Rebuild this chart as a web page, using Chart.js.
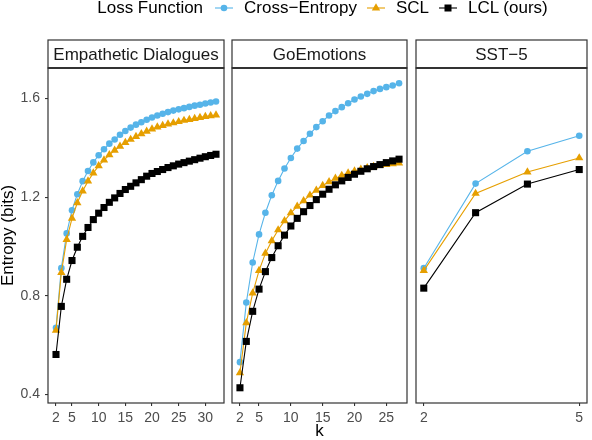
<!DOCTYPE html>
<html>
<head>
<meta charset="utf-8">
<script src="https://cdn.jsdelivr.net/npm/chart.js@4.4.1/dist/chart.umd.min.js"></script>
<style>
  html, body { margin: 0; padding: 0; background: #fff; }
  #wrap { position: relative; width: 592px; height: 440px; overflow: hidden; font-family: "Liberation Sans", Arial, sans-serif; }
  #wrap canvas { position: absolute; left: 0; top: 0; }
  #legend { position: absolute; left: 51px; top: -2px; width: 543px; height: 20px; line-height: 20px;
            display: flex; justify-content: center; align-items: center; font-size: 17px; color: #000; white-space: nowrap; }
  #legend .ttl { margin-right: 12px; }
  #legend .item { display: flex; align-items: center; margin-right: 10px; }
  #legend .item:last-child { margin-right: 0; }
  #legend svg { display: block; margin-right: 11px; }
</style>
</head>
<body>
<div id="wrap">
  <canvas id="p1" width="592" height="440"></canvas>
  <canvas id="p2" width="592" height="440"></canvas>
  <canvas id="p3" width="592" height="440"></canvas>
  <div id="legend"></div>
</div>
<script>
// categories (k)
var kEmp = [2, 3, 4, 5, 6, 7, 8, 9, 10, 11, 12, 13, 14, 15, 16, 17, 18, 19, 20, 21, 22, 23, 24, 25, 26, 27, 28, 29, 30, 31, 32];
var kGo = [2, 3, 4, 5, 6, 7, 8, 9, 10, 11, 12, 13, 14, 15, 16, 17, 18, 19, 20, 21, 22, 23, 24, 25, 26, 27];
var kSst = [2, 3, 4, 5];

// Empathetic Dialogues
var empCE = [0.670, 0.912, 1.053, 1.147, 1.212, 1.265, 1.306, 1.341, 1.370, 1.394, 1.417, 1.434, 1.453, 1.468, 1.482, 1.494,
  1.504, 1.514, 1.523, 1.531, 1.538, 1.545, 1.551, 1.556, 1.561, 1.566, 1.571, 1.575, 1.580, 1.584, 1.588];
var empSCL = [0.660, 0.894, 1.028, 1.114, 1.177, 1.225, 1.265, 1.298, 1.327, 1.350, 1.372, 1.390, 1.406, 1.421, 1.434, 1.446,
  1.457, 1.467, 1.476, 1.484, 1.490, 1.496, 1.501, 1.506, 1.511, 1.515, 1.519, 1.523, 1.527, 1.530, 1.533];
var empLCL = [0.562, 0.757, 0.867, 0.943, 0.997, 1.041, 1.077, 1.109, 1.135, 1.158, 1.179, 1.197, 1.215, 1.231, 1.244, 1.258,
  1.271, 1.285, 1.296, 1.304, 1.312, 1.320, 1.327, 1.334, 1.340, 1.346, 1.352, 1.358, 1.364, 1.369, 1.374];

// GoEmotions
var goCE = [0.531, 0.773, 0.935, 1.049, 1.137, 1.208, 1.266, 1.316, 1.359, 1.397, 1.428, 1.457, 1.484, 1.508, 1.531, 1.549,
  1.565, 1.581, 1.596, 1.608, 1.619, 1.630, 1.639, 1.646, 1.653, 1.662];
var goSCL = [0.488, 0.690, 0.811, 0.902, 0.972, 1.023, 1.067, 1.104, 1.136, 1.163, 1.185, 1.208, 1.228, 1.247, 1.262, 1.276,
  1.288, 1.298, 1.306, 1.313, 1.319, 1.324, 1.328, 1.332, 1.335, 1.338];
var goLCL = [0.427, 0.615, 0.737, 0.827, 0.898, 0.955, 1.003, 1.046, 1.083, 1.114, 1.141, 1.166, 1.190, 1.212, 1.232, 1.250,
  1.266, 1.280, 1.293, 1.305, 1.315, 1.324, 1.332, 1.340, 1.347, 1.354];

// SST-5
var sstCE = [0.912, 1.255, 1.386, 1.449];
var sstSCL = [0.902, 1.215, 1.302, 1.359];
var sstLCL = [0.831, 1.137, 1.253, 1.312];

var panelNames = ["Empathetic Dialogues", "GoEmotions", "SST\u22125"];
var seriesNames = ["Cross\u2212Entropy", "SCL", "LCL (ours)"];
var legendTitle = "Loss Function";
var yTitle = "Entropy (bits)";
var xTitle = "k";

var yTicks = [0.4, 0.8, 1.2, 1.6];
var xTicksEmp = [2, 5, 10, 15, 20, 25, 30];
var xTicksGo = [2, 5, 10, 15, 20, 25];
var xTicksSst = [2, 5];

(function () {
  "use strict";

  var colors = ["#56B4E9", "#E69F00", "#000000"];
  var shapes = ["circle", "triangle", "rect"];
  var radii = [3.3, 4.8, 5];
  var frame = "#333333";
  var tickGrey = "#4D4D4D";
  var fontFamily = "'Liberation Sans', Arial, sans-serif";

  Chart.defaults.font.family = fontFamily;

  // ggplot style 5% expansion
  function expand(lo, hi, f) {
    var d = (hi - lo) * f;
    return [lo - d, hi + d];
  }

  var allY = [].concat(empCE, empSCL, empLCL, goCE, goSCL, goLCL, sstCE, sstSCL, sstLCL);
  var yRange = expand(Math.min.apply(null, allY), Math.max.apply(null, allY), 0.05);

  function datasets(ks, rows) {
    return rows.map(function (vals, i) {
      return {
        label: seriesNames[i],
        data: ks.map(function (k, j) { return { x: k, y: vals[j] }; }),
        borderColor: colors[i],
        backgroundColor: colors[i],
        pointBackgroundColor: colors[i],
        pointBorderWidth: 0,
        pointStyle: shapes[i],
        pointRadius: radii[i],
        borderWidth: 1.1,
        tension: 0,
        order: rows.length - 1 - i
      };
    });
  }

  var stripPlugin = {
    id: "strip",
    afterDraw: function (chart) {
      var a = chart.chartArea;
      var ctx = chart.ctx;
      var w = a.right - a.left;
      ctx.save();
      ctx.strokeStyle = frame;
      ctx.lineWidth = 1.2;
      ctx.fillStyle = "#fff";
      ctx.fillRect(a.left, 40, w, 28);
      ctx.strokeRect(a.left, 40, w, 28);
      ctx.strokeRect(a.left, a.top, w, a.bottom - a.top);
      ctx.lineWidth = 2;
      ctx.beginPath();
      ctx.moveTo(a.left, a.top);
      ctx.lineTo(a.right, a.top);
      ctx.stroke();
      ctx.fillStyle = "#1A1A1A";
      ctx.font = "17px " + fontFamily;
      ctx.textAlign = "center";
      ctx.textBaseline = "alphabetic";
      ctx.fillText(chart.options.plugins.strip.text, (a.left + a.right) / 2, 59.5);
      ctx.restore();
    }
  };

  function panel(id, idx, ks, rows, xTicks, padL, padR, showY, showXTitle) {
    var xr = expand(ks[0], ks[ks.length - 1], 0.05);
    return new Chart(document.getElementById(id).getContext("2d"), {
      type: "line",
      data: { datasets: datasets(ks, rows) },
      plugins: [stripPlugin],
      options: {
        responsive: false,
        animation: false,
        layout: { padding: { left: padL, right: padR, top: 68, bottom: 0 } },
        scales: {
          x: {
            type: "linear",
            min: xr[0],
            max: xr[1],
            afterBuildTicks: function (s) { s.ticks = xTicks.map(function (v) { return { value: v }; }); },
            afterFit: function (s) { s.height = 37; },
            ticks: { color: tickGrey, font: { size: 14 }, padding: 4, maxRotation: 0, autoSkip: false,
                     callback: function (v) { return String(v); } },
            grid: { drawOnChartArea: false, drawTicks: true, tickLength: 3, color: frame, lineWidth: 1.1 },
            border: { display: false },
            title: { display: showXTitle, text: xTitle, color: "#000", font: { size: 17, lineHeight: 1 }, padding: 0 }
          },
          y: {
            type: "linear",
            display: showY,
            min: yRange[0],
            max: yRange[1],
            afterBuildTicks: function (s) { s.ticks = yTicks.map(function (v) { return { value: v }; }); },
            afterFit: function (s) { if (showY) s.width = 48; },
            ticks: { color: tickGrey, font: { size: 14 }, padding: 5,
                     callback: function (v) { return Number(v).toFixed(1); } },
            grid: { drawOnChartArea: false, drawTicks: true, tickLength: 3, color: frame, lineWidth: 1.1 },
            border: { display: false },
            title: { display: showY, text: yTitle, color: "#000", font: { size: 17, lineHeight: 1 }, padding: 0 }
          }
        },
        plugins: {
          legend: { display: false },
          tooltip: { enabled: false },
          strip: { text: panelNames[idx] }
        }
      }
    });
  }

  panel("p1", 0, kEmp, [empCE, empSCL, empLCL], xTicksEmp, 0, 368, true, false);
  panel("p2", 1, kGo, [goCE, goSCL, goLCL], xTicksGo, 232, 185, false, true);
  panel("p3", 2, kSst, [sstCE, sstSCL, sstLCL], xTicksSst, 416, 1, false, false);

  // legend
  function marker(i) {
    var c = colors[i];
    var m;
    if (shapes[i] === "circle") m = '<circle cx="9" cy="9" r="3.3" fill="' + c + '"/>';
    else if (shapes[i] === "triangle") m = '<polygon points="9,4.2 13.2,11.4 4.8,11.4" fill="' + c + '"/>';
    else m = '<rect x="5.5" y="5.5" width="7" height="7" fill="' + c + '"/>';
    return '<svg width="18" height="18" viewBox="0 0 18 18"><line x1="0" y1="9" x2="18" y2="9" stroke="' + c +
      '" stroke-width="1.1"/>' + m + "</svg>";
  }

  var html = '<span class="ttl">' + legendTitle + "</span>";
  seriesNames.forEach(function (name, i) {
    html += '<span class="item">' + marker(i) + "<span>" + name + "</span></span>";
  });
  document.getElementById("legend").innerHTML = html;
})();
</script>
</body>
</html>
